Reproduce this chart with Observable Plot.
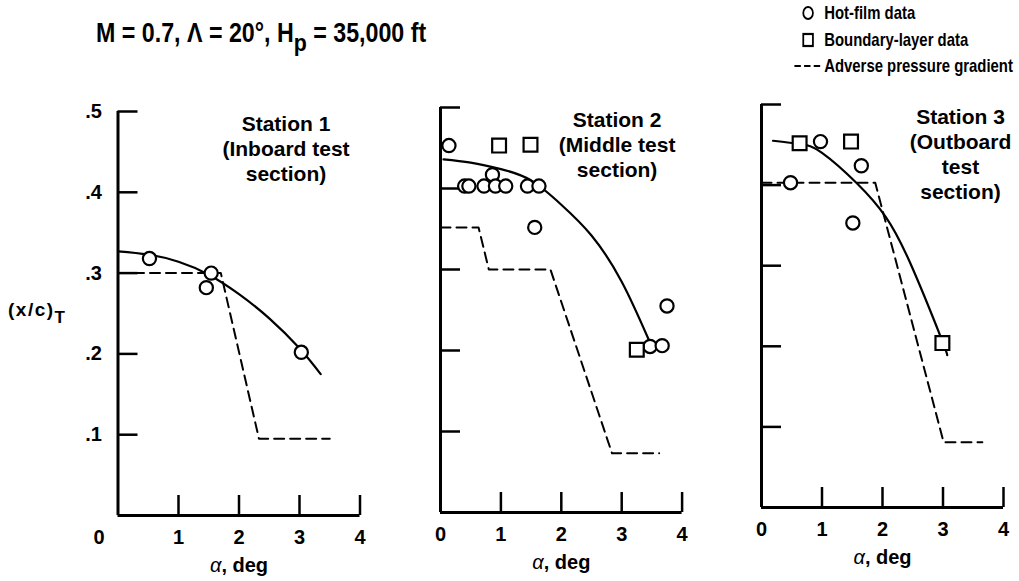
<!DOCTYPE html>
<html>
<head>
<meta charset="utf-8">
<script src="https://cdn.jsdelivr.net/npm/d3@7"></script>
<script src="https://cdn.jsdelivr.net/npm/@observablehq/plot@0.6"></script>
<style>
  body { margin: 0; background: #fff; }
  #chart { position: relative; width: 1019px; height: 581px; overflow: hidden; background: #fff;
           font-family: "Liberation Sans", Arial, Helvetica, sans-serif; font-weight: bold; color: #000; }
  #chart svg.panel { position: absolute; left: 0; top: 0; }
  #title { position: absolute; left: 96px; top: 20px; font-size: 27px; line-height: 27px; white-space: pre;
           transform: scaleX(0.86); transform-origin: left top; }
  #title .sub { position: relative; top: 0.36em; font-size: 0.92em; }
  .key { position: absolute; left: 792px; height: 20px; display: flex; align-items: center; font-size: 18.5px;
         white-space: nowrap; transform: scaleX(0.805); transform-origin: left center; }
  .key svg { width: 40px; height: 20px; flex: none; }
</style>
</head>
<body>
<div id="chart">
  <div id="title">M = 0.7, Λ = 20°, H<span class="sub">p</span> = 35,000 ft</div>
  <div class="key" style="top:3px"><svg><circle cx="20" cy="10" r="6" fill="#fff" stroke="#000" stroke-width="2.2"/></svg><span>Hot-film data</span></div>
  <div class="key" style="top:30px"><svg><rect x="14" y="4" width="12" height="12" fill="#fff" stroke="#000" stroke-width="2.2"/></svg><span>Boundary-layer data</span></div>
  <div class="key" style="top:56px"><svg><line x1="3" x2="38" y1="10" y2="10" stroke="#000" stroke-width="2.2" stroke-dasharray="8,4"/></svg><span>Adverse pressure gradient</span></div>
</div>
<script>
// Axis ticks and labels
const alphaTicks = [1, 2, 3, 4];
const xcTicks = [0.1, 0.2, 0.3, 0.4, 0.5];
const xcTickLabels = [".1", ".2", ".3", ".4", ".5"];

// Station 1 — inboard test section: [alpha (deg), (x/c)T]
const station1HotFilm = [[0.52, 0.318], [1.46, 0.282], [1.54, 0.300], [3.03, 0.202]];
const station1BoundaryLayer = [];
const station1Fairing = [[0, 0.327], [0.5, 0.323], [1.0, 0.314], [1.5, 0.298], [2.0, 0.274], [2.5, 0.244], [3.0, 0.207], [3.35, 0.175]];
const station1Adverse = [[0, 0.300], [1.70, 0.300], [2.33, 0.095], [3.50, 0.095]];

// Station 2 — middle test section
const station2HotFilm = [[0.14, 0.453], [0.40, 0.403], [0.47, 0.403], [0.72, 0.403], [0.86, 0.417], [0.91, 0.403],
                         [1.08, 0.403], [1.44, 0.403], [1.63, 0.403], [1.56, 0.352], [3.47, 0.205], [3.67, 0.206], [3.75, 0.255]];
const station2BoundaryLayer = [[0.97, 0.453], [1.49, 0.454], [3.25, 0.201]];
const station2Fairing = [[0.05, 0.436], [0.5, 0.432], [1.0, 0.424], [1.5, 0.410], [2.0, 0.380], [2.5, 0.342], [3.0, 0.285], [3.45, 0.213]];
const station2Adverse = [[0, 0.352], [0.63, 0.352], [0.80, 0.300], [1.82, 0.300], [2.84, 0.073], [3.62, 0.073]];

// Station 3 — outboard test section
const station3HotFilm = [[0.48, 0.403], [0.975, 0.454], [1.65, 0.424], [1.51, 0.353]];
const station3BoundaryLayer = [[0.63, 0.452], [1.48, 0.454], [2.99, 0.204]];
const station3Fairing = [[0.19, 0.455], [0.64, 0.451], [1.0, 0.440], [1.58, 0.402], [2.05, 0.361], [2.46, 0.303], [2.96, 0.212], [3.07, 0.189]];
const station3Adverse = [[0, 0.403], [1.88, 0.403], [3.01, 0.081], [3.65, 0.081]];

const stationTitles = [
  "Station 1\n(Inboard test\nsection)",
  "Station 2\n(Middle test\nsection)",
  "Station 3\n(Outboard\ntest\nsection)"
];

const W = 1019, H = 581;
const ink = "#000";
const font = "'Liberation Sans', Arial, Helvetica, sans-serif";

const panels = [
  {frame: [117.5, 359.5, 111, 515], hot: station1HotFilm, bl: station1BoundaryLayer, fair: station1Fairing,
   adverse: station1Adverse, title: stationTitles[0], titleDx: -74, yLabels: true, zeroDx: -19},
  {frame: [440, 681.6, 107, 512], hot: station2HotFilm, bl: station2BoundaryLayer, fair: station2Fairing,
   adverse: station2Adverse, title: stationTitles[1], titleDx: -65, yLabels: false, zeroDx: 0},
  {frame: [761, 1003, 104, 507], hot: station3HotFilm, bl: station3BoundaryLayer, fair: station3Fairing,
   adverse: station3Adverse, title: stationTitles[2], titleDx: -43, yLabels: false, zeroDx: 0}
];

const px = d => d[0], py = d => d[1];
const intLabel = d => String(d);

function drawPanel(p) {
  const [left, right, top, bottom] = p.frame;
  const marks = [
    Plot.line(p.adverse, {x: px, y: py, stroke: ink, strokeWidth: 2, strokeDasharray: "10,6"}),
    Plot.line(p.fair, {x: px, y: py, stroke: ink, strokeWidth: 2.2, curve: "natural"}),
    Plot.ruleX([0], {y1: 0, y2: 0.5, stroke: ink, strokeWidth: 3}),
    Plot.ruleY([0], {x1: 0, x2: 4, stroke: ink, strokeWidth: 3}),
    Plot.axisY({ticks: xcTicks, tickSize: -20, tickFormat: () => "", strokeWidth: 2.5, label: null}),
    Plot.axisX({ticks: alphaTicks, tickSize: -20, tickFormat: () => "", strokeWidth: 2.5, label: null}),
    Plot.axisX({ticks: alphaTicks, tickSize: 0, tickPadding: 14, tickFormat: intLabel, fontSize: 20, fontWeight: "bold", label: null}),
    Plot.axisX({ticks: [0], tickSize: 0, tickPadding: 14, tickFormat: intLabel, dx: p.zeroDx, fontSize: 20, fontWeight: "bold", label: null}),
    Plot.text(["α, deg"], {frameAnchor: "bottom", dy: 50, lineAnchor: "middle", fontSize: 20, fontWeight: "bold", fill: ink}),
    Plot.text([p.title], {frameAnchor: "top-right", dx: p.titleDx, dy: 1.5, textAnchor: "middle", lineAnchor: "top",
                          lineHeight: 1.2, fontSize: 21, fontWeight: "bold", fill: ink}),
    Plot.dot(p.hot, {x: px, y: py, r: 6.6, stroke: ink, strokeWidth: 2.2, fill: "#fff"}),
    Plot.dot(p.bl, {x: px, y: py, symbol: "square", r: 7.8, stroke: ink, strokeWidth: 2.2, fill: "#fff"})
  ];
  if (p.yLabels) {
    marks.push(
      Plot.axisY({ticks: xcTicks, tickSize: 0, tickPadding: 16, tickFormat: d => xcTickLabels[xcTicks.indexOf(d)],
                  fontSize: 20, fontWeight: "bold", label: null}),
      Plot.text(["(x/c)"], {frameAnchor: "left", dx: -110, dy: -4, textAnchor: "start", fontSize: 19,
                            fontWeight: "bold", fill: ink})
    );
  }
  const svg = Plot.plot({
    width: W, height: H,
    marginLeft: left, marginRight: W - right, marginTop: top, marginBottom: H - bottom,
    x: {domain: [0, 4]},
    y: {domain: [0, 0.5]},
    style: {fontFamily: font, fontWeight: "bold", color: ink, background: "transparent", overflow: "visible"},
    marks
  });
  svg.classList.add("panel");
  // italic alpha in the abscissa label, subscript T in the ordinate label
  svg.querySelectorAll("text").forEach(t => {
    if (t.textContent === "α, deg") {
      t.textContent = "";
      const a = document.createElementNS("http://www.w3.org/2000/svg", "tspan");
      a.setAttribute("font-style", "italic");
      a.setAttribute("font-weight", "normal");
      a.textContent = "α";
      const r = document.createElementNS("http://www.w3.org/2000/svg", "tspan");
      r.textContent = ", deg";
      t.append(a, r);
    } else if (t.textContent === "(x/c)") {
      t.setAttribute("letter-spacing", "1.5");
      const s = document.createElementNS("http://www.w3.org/2000/svg", "tspan");
      s.setAttribute("dy", "0.45em");
      s.setAttribute("font-size", "17");
      s.textContent = "T";
      t.append(s);
    }
  });
  return svg;
}

const chart = document.getElementById("chart");
panels.forEach(p => chart.appendChild(drawPanel(p)));
</script>
</body>
</html>
